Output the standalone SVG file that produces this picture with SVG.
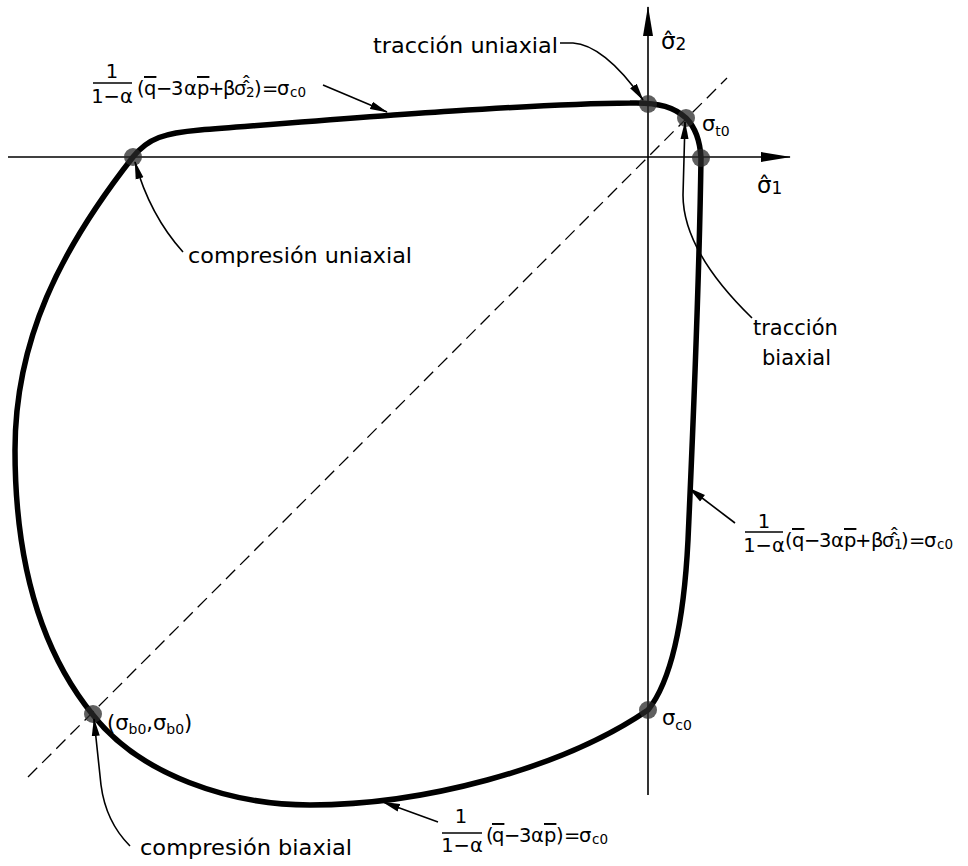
<svg xmlns="http://www.w3.org/2000/svg" width="968" height="866" viewBox="0 0 968 866">
<style>
text{font-family:"DejaVu Sans","Liberation Sans",sans-serif;fill:#000}
.lbl{font-size:21px}
.f{font-size:19.5px}
.sub{font-size:14px}
.fs{font-size:13.5px}
.axs{font-size:17px}
.hh{font-family:"Noto Sans","DejaVu Sans",sans-serif;font-size:20px}
.ax{stroke:#000;stroke-width:1.6;fill:none}
.curve{stroke:#000;stroke-width:5.5;fill:none;stroke-linejoin:round}
.lead{stroke:#000;stroke-width:1.6;fill:none}
.dash{stroke:#000;stroke-width:1.3;fill:none;stroke-dasharray:13 7}
.pt{fill:#2a2a2a;fill-opacity:0.75}
.bar{stroke:#000;stroke-width:1.5}
</style>
<defs>
<marker id="axA" markerUnits="userSpaceOnUse" markerWidth="30" markerHeight="12" refX="29" refY="6" orient="auto"><path d="M0,1 L30,6 L0,11 Z" fill="#000"/></marker>
<marker id="ldA" markerUnits="userSpaceOnUse" markerWidth="18" markerHeight="9" refX="17" refY="4.5" orient="auto"><path d="M0,0.5 L18,4.5 L0,8.5 Z" fill="#000"/></marker>
</defs>

<g id="axes">
<line class="ax" x1="8" y1="157" x2="790" y2="157" marker-end="url(#axA)"/>
<line class="ax" x1="648" y1="795" x2="648" y2="7" marker-end="url(#axA)"/>
<line class="dash" x1="28" y1="777" x2="727" y2="78"/>
<text class="lbl" x="661" y="49" style="font-size:23px">σ̂<tspan class="axs" dy="1">2</tspan></text>
<text class="lbl" x="757" y="193" style="font-size:23px">σ̂<tspan class="axs" dy="1">1</tspan></text>
</g>

<g id="surface">
<path class="curve" d="M133,157 C148,138 165,133 200,130 C330,120 520,104 630,103 C660,102 675,108 686,118 C695,127 700,140 701,158 C699,300 692,450 688,540 C684,620 672,680 648,710 C560,770 420,805 310,805 C230,805 140,775 93,715 C40,650 15,560 15,450 C15,340 60,250 133,157 Z"/>
</g>

<g id="points">
<circle class="pt" cx="133" cy="157" r="9"/>
<circle class="pt" cx="648" cy="104" r="9"/>
<circle class="pt" cx="686" cy="118" r="9"/>
<circle class="pt" cx="701" cy="158" r="9"/>
<circle class="pt" cx="648" cy="710" r="9"/>
<circle class="pt" cx="93" cy="714" r="9"/>
</g>

<g id="connectors">
<path class="lead" d="M323,85 L387,112" marker-end="url(#ldA)"/>
<path class="lead" d="M560,43 L573,43 C592,44 617,62 643,100" marker-end="url(#ldA)"/>
<path class="lead" d="M752,318 C715,282 683,240 683,195 L685,122" marker-end="url(#ldA)"/>
<path class="lead" d="M183,252 C165,232 147,205 135,162" marker-end="url(#ldA)"/>
<path class="lead" d="M735,523 L689,488" marker-end="url(#ldA)"/>
<path class="lead" d="M438,822 L383,802" marker-end="url(#ldA)"/>
<path class="lead" d="M130,846 C112,828 104,808 101,785 L94,719" marker-end="url(#ldA)"/>
</g>

<g id="label-tl">
<text class="f" x="112" y="78" text-anchor="middle">1</text>
<line class="bar" x1="93" y1="83" x2="132" y2="83"/>
<text class="f" x="112" y="103" text-anchor="middle">1−α</text>
<text class="f" y="95"><tspan x="137">(</tspan><tspan x="144" text-decoration="overline">q</tspan><tspan x="156">−</tspan><tspan x="171">3</tspan><tspan x="184">α</tspan><tspan x="197" text-decoration="overline">p</tspan><tspan x="208">+</tspan><tspan x="223">β</tspan><tspan class="hh" x="234">σ̂̂</tspan><tspan class="fs" x="246" y="97">2</tspan><tspan x="254" y="95">)</tspan><tspan x="262">=</tspan><tspan x="277">σ</tspan><tspan class="fs" x="290" dy="2">c0</tspan></text>
</g>

<g id="label-tu">
<text class="lbl" x="373" y="53" textLength="185" lengthAdjust="spacingAndGlyphs">tracción  uniaxial</text>
</g>

<g id="label-st0">
<text class="lbl" x="702" y="131">σ<tspan class="sub" dy="5">t0</tspan></text>
</g>

<g id="label-cu">
<text class="lbl" x="188" y="263" textLength="224" lengthAdjust="spacingAndGlyphs">compresión  uniaxial</text>
</g>

<g id="label-tb">
<text class="lbl" x="753" y="335">tracción</text>
<text class="lbl" x="762" y="365">biaxial</text>
</g>

<g id="label-r">
<text class="f" x="764" y="528" text-anchor="middle">1</text>
<line class="bar" x1="745" y1="532" x2="783" y2="532"/>
<text class="f" x="764" y="552" text-anchor="middle">1−α</text>
<text class="f" y="547"><tspan x="785">(</tspan><tspan x="792" text-decoration="overline">q</tspan><tspan x="804">−</tspan><tspan x="819">3</tspan><tspan x="831">α</tspan><tspan x="844" text-decoration="overline">p</tspan><tspan x="855">+</tspan><tspan x="871">β</tspan><tspan class="hh" x="882">σ̂̂</tspan><tspan class="fs" x="894" y="549">1</tspan><tspan x="901" y="547">)</tspan><tspan x="909">=</tspan><tspan x="924">σ</tspan><tspan class="fs" x="937" dy="2">c0</tspan></text>
</g>

<g id="label-b">
<text class="f" x="461" y="823" text-anchor="middle">1</text>
<line class="bar" x1="442" y1="833" x2="482" y2="833"/>
<text class="f" x="462" y="852" text-anchor="middle">1−α</text>
<text class="f" y="842"><tspan x="486">(</tspan><tspan x="492" text-decoration="overline">q</tspan><tspan x="504">−</tspan><tspan x="519">3</tspan><tspan x="531">α</tspan><tspan x="544" text-decoration="overline">p</tspan><tspan x="556">)</tspan><tspan x="564">=</tspan><tspan x="579">σ</tspan><tspan class="fs" x="592" dy="2">c0</tspan></text>
</g>

<g id="label-sb0">
<text class="lbl" x="107" y="730">(σ<tspan class="sub" dy="4">b0</tspan><tspan dy="-4">,σ</tspan><tspan class="sub" dy="4">b0</tspan><tspan dy="-4">)</tspan></text>
</g>

<g id="label-sc0">
<text class="lbl" x="662" y="725">σ<tspan class="sub" dy="5">c0</tspan></text>
</g>

<g id="label-cb">
<text class="lbl" x="140" y="855" textLength="212" lengthAdjust="spacingAndGlyphs">compresión  biaxial</text>
</g>
</svg>
